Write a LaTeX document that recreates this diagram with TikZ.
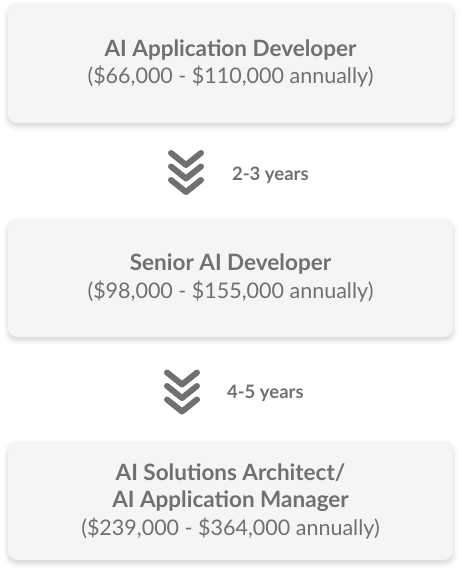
\documentclass[tikz,border=0pt]{standalone}
\usepackage{fontspec}
\setmainfont{Lato}
\usetikzlibrary{shadows.blur}
\definecolor{kasten}{HTML}{F7F4F5}
\definecolor{schrift}{HTML}{707070}
\newcommand\titel[1]{{\fontsize{22.5}{27.5}\selectfont\bfseries #1}}
\tikzset{
  stufe/.style={rectangle,rounded corners=9pt,fill=kasten,minimum width=445pt,align=center,
    text=schrift,font=\fontsize{21.5}{27.5}\selectfont,
    blur shadow={shadow xshift=0pt,shadow yshift=-3pt,shadow blur radius=5pt,shadow opacity=18}},
  dauer/.style={text=schrift,font=\fontsize{18.5}{21}\selectfont\bfseries,anchor=west},
  winkel/.style={draw=schrift,line width=6pt,line cap=round,line join=round}
}
\begin{document}
\begin{tikzpicture}[x=1pt,y=-1pt]
\useasboundingbox (0,0) rectangle (462,573);
% Stufen
\node[stufe,minimum height=119pt] (entwickler) at (230.5,63.5) {\titel{AI Application Developer}\\(\$66,000 - \$110,000 annually)};
\node[stufe,minimum height=118pt] (senior) at (230.5,278) {\titel{Senior AI Developer}\\(\$98,000 - \$155,000 annually)};
\node[stufe,minimum height=118pt] (architekt) at (230.5,501) {\titel{AI Solutions Architect/}\\\titel{AI Application Manager}\\(\$239,000 - \$364,000 annually)};

% Pfeile
\foreach \dy in {-13.5,0,13.5}
  \draw[winkel] (171,{166.5+\dy}) -- (186,{178.5+\dy}) -- (201,{166.5+\dy});
\foreach \dy in {-13.5,0,13.5}
  \draw[winkel] (167,{386+\dy}) -- (182,{398+\dy}) -- (197,{386+\dy});

% Jahre
\node[dauer] (jahre1) at (228.5,175) {2-3 years};
\node[dauer] (jahre2) at (223.5,393) {4-5 years};
\end{tikzpicture}
\end{document}
